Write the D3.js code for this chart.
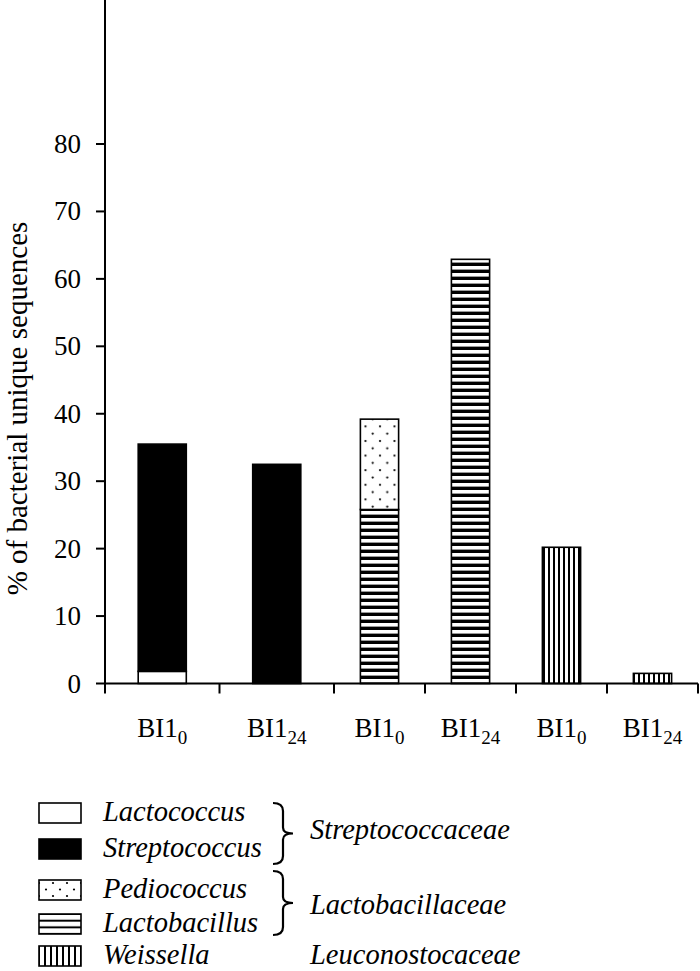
<!DOCTYPE html>
<html>
<head>
<meta charset="utf-8">
<script src="https://cdn.jsdelivr.net/npm/d3@7"></script>
<style>
  body { margin: 0; background: #fff; }
  svg { display: block; }
</style>
</head>
<body>
<div id="chart"></div>
<script>
'use strict';

// data (% of bacterial unique sequences)
const sampleNames = ['BI1', 'BI1', 'BI1', 'BI1', 'BI1', 'BI1'];
const sampleHours = ['0', '24', '0', '24', '0', '24'];
const genera = ['Lactococcus', 'Streptococcus', 'Pediococcus', 'Lactobacillus', 'Weissella'];
const lactococcus = [1.8, 0, 0, 0, 0, 0];
const streptococcus = [33.7, 32.5, 0, 0, 0, 0];
const pediococcus = [0, 0, 13.4, 0, 0, 0];
const lactobacillus = [0, 0, 25.8, 62.9, 0, 0];
const weissella = [0, 0, 0, 0, 20.2, 1.5];
const families = ['Streptococcaceae', 'Lactobacillaceae', 'Leuconostocaceae'];
const yTicks = [0, 10, 20, 30, 40, 50, 60, 70, 80];

// stacking order, bottom to top
const stackKeys = ['Lactococcus', 'Streptococcus', 'Lactobacillus', 'Pediococcus', 'Weissella'];

const settings = {
    width: 700,
    height: 971,
    elId: '#chart',
    font: 'Liberation Serif, Times New Roman, serif',
};

const rows = sampleNames.map((name, i) => ({
    name: name,
    hour: sampleHours[i],
    Lactococcus: lactococcus[i],
    Streptococcus: streptococcus[i],
    Pediococcus: pediococcus[i],
    Lactobacillus: lactobacillus[i],
    Weissella: weissella[i],
}));

const svg = d3.select(settings.elId)
    .append('svg')
    .attr('width', settings.width)
    .attr('height', settings.height);

// the two first groups get wider slots than the last four
const x = d3.scaleLinear()
    .domain([0, 2, 6])
    .range([105, 334, 698]);

const y = d3.scaleLinear()
    .domain([0, 80])
    .range([683.5, 144]);

// patterns
const defs = svg.append('defs');

function hStripes(id, period, thick) {
    const p = defs.append('pattern')
        .attr('id', id)
        .attr('patternUnits', 'userSpaceOnUse')
        .attr('width', 10).attr('height', period);
    p.append('rect').attr('width', 10).attr('height', period).attr('fill', '#fff');
    p.append('rect').attr('y', period - thick).attr('width', 10).attr('height', thick).attr('fill', '#000');
    return p;
}

function vStripes(id, period, thick) {
    const p = defs.append('pattern')
        .attr('id', id)
        .attr('patternUnits', 'userSpaceOnUse')
        .attr('width', period).attr('height', 10);
    p.append('rect').attr('width', period).attr('height', 10).attr('fill', '#fff');
    p.append('rect').attr('x', period - thick).attr('width', thick).attr('height', 10).attr('fill', '#000');
    return p;
}

function dots(id, w, h) {
    const p = defs.append('pattern')
        .attr('id', id)
        .attr('patternUnits', 'userSpaceOnUse')
        .attr('width', w).attr('height', h);
    p.append('rect').attr('width', w).attr('height', h).attr('fill', '#fff');
    p.append('circle').attr('cx', 3).attr('cy', 3).attr('r', 1.1).attr('fill', '#000');
    p.append('circle').attr('cx', 3 + w / 2).attr('cy', 3 + h / 2).attr('r', 1.1).attr('fill', '#000');
    return p;
}

hStripes('hs', 7, 3.4);
vStripes('vs', 5, 2);
dots('dt', 14.5, 14.6);

const fills = {
    Lactococcus: '#fff',
    Streptococcus: '#000',
    Pediococcus: 'url(#dt)',
    Lactobacillus: 'url(#hs)',
    Weissella: 'url(#vs)',
};

// bars
const stack = d3.stack().keys(stackKeys);
const series = stack(rows);
const barFrac = 0.42;

const bars = svg.append('g').attr('id', 'bars');
series.forEach(s => {
    bars.selectAll(null)
        .data(s.map((d, i) => ({ lo: d[0], hi: d[1], i: i, key: s.key })).filter(d => d.hi - d.lo > 0))
        .enter()
        .append('rect')
        .attr('x', d => {
            const w = (x(d.i + 1) - x(d.i)) * barFrac;
            return (x(d.i) + x(d.i + 1)) / 2 - w / 2;
        })
        .attr('width', d => (x(d.i + 1) - x(d.i)) * barFrac)
        .attr('y', d => y(d.hi))
        .attr('height', d => y(d.lo) - y(d.hi))
        .attr('fill', d => fills[d.key])
        .attr('stroke', '#000')
        .attr('stroke-width', 1.6);
});

// y axis
const yAxis = svg.append('g').attr('id', 'y-axis');
yAxis.append('line')
    .attr('x1', x(0)).attr('x2', x(0))
    .attr('y1', y(0)).attr('y2', 0)
    .attr('stroke', '#000').attr('stroke-width', 2);
yAxis.selectAll('.tick')
    .data(yTicks)
    .enter()
    .append('line')
    .attr('x1', x(0) - 9).attr('x2', x(0))
    .attr('y1', d => y(d)).attr('y2', d => y(d))
    .attr('stroke', '#000').attr('stroke-width', 2);
yAxis.selectAll('text')
    .data(yTicks)
    .enter()
    .append('text')
    .attr('x', x(0) - 24)
    .attr('y', d => y(d) + 9)
    .attr('text-anchor', 'end')
    .attr('font-family', settings.font)
    .attr('font-size', 27)
    .text(d => d);

svg.append('text')
    .attr('transform', `translate(27,${(220 + 597) / 2}) rotate(-90)`)
    .attr('text-anchor', 'middle')
    .attr('font-family', settings.font)
    .attr('font-size', 29)
    .text('% of bacterial unique sequences');

// x axis
const xAxis = svg.append('g').attr('id', 'x-axis');
xAxis.append('line')
    .attr('x1', x(0)).attr('x2', x(6))
    .attr('y1', y(0)).attr('y2', y(0))
    .attr('stroke', '#000').attr('stroke-width', 2);
xAxis.selectAll('.tick')
    .data(d3.range(7))
    .enter()
    .append('line')
    .attr('x1', d => x(d)).attr('x2', d => x(d))
    .attr('y1', y(0)).attr('y2', y(0) + 10)
    .attr('stroke', '#000').attr('stroke-width', 2);

const xl = xAxis.selectAll('text')
    .data(rows)
    .enter()
    .append('text')
    .attr('x', (d, i) => (x(i) + x(i + 1)) / 2)
    .attr('y', 737)
    .attr('text-anchor', 'middle')
    .attr('font-family', settings.font)
    .attr('font-size', 27);
xl.append('tspan').text(d => d.name);
xl.append('tspan')
    .attr('dy', 7)
    .attr('font-size', 19)
    .text(d => d.hour);

// legend
const legendBase = [821, 857, 898, 932, 964];
const legendFills = {
    Lactococcus: '#fff',
    Streptococcus: '#000',
    Pediococcus: 'url(#ldt)',
    Lactobacillus: 'url(#lhs)',
    Weissella: 'url(#lvs)',
};
hStripes('lhs', 6.67, 2).attr('patternTransform', `translate(0,${legendBase[3] - 18 + 1})`);
vStripes('lvs', 6, 2).attr('patternTransform', `translate(40,0)`);
dots('ldt', 14, 13).attr('patternTransform', `translate(36,${legendBase[2] - 18})`);

const legend = svg.append('g').attr('id', 'legend');
legend.selectAll('rect')
    .data(genera)
    .enter()
    .append('rect')
    .attr('x', 39)
    .attr('y', (d, i) => legendBase[i] - 18)
    .attr('width', 42)
    .attr('height', 20)
    .attr('fill', d => legendFills[d])
    .attr('stroke', '#000')
    .attr('stroke-width', 1.6);
legend.selectAll('text.genus')
    .data(genera)
    .enter()
    .append('text')
    .attr('class', 'genus')
    .attr('x', 103)
    .attr('y', (d, i) => legendBase[i])
    .attr('font-family', settings.font)
    .attr('font-style', 'italic')
    .attr('font-size', 28.5)
    .text(d => d);

// braces grouping genera into families
function brace(top, bottom) {
    const xa = 273, xb = 283, xc = 293, mid = (top + bottom) / 2;
    return `M${xa},${top} Q${xb},${top} ${xb},${top + 8} L${xb},${mid - 6} Q${xb},${mid} ${xc},${mid}`
        + ` Q${xb},${mid} ${xb},${mid + 6} L${xb},${bottom - 8} Q${xb},${bottom} ${xa},${bottom}`;
}
const braceSpans = [[803, 864], [871, 935]];
legend.selectAll('path')
    .data(braceSpans)
    .enter()
    .append('path')
    .attr('d', d => brace(d[0], d[1]))
    .attr('fill', 'none')
    .attr('stroke', '#000')
    .attr('stroke-width', 2.2);

const familyBase = [839, 914, 964];
legend.selectAll('text.family')
    .data(families)
    .enter()
    .append('text')
    .attr('class', 'family')
    .attr('x', 310)
    .attr('y', (d, i) => familyBase[i])
    .attr('font-family', settings.font)
    .attr('font-style', 'italic')
    .attr('font-size', 28.5)
    .text(d => d);
</script>
</body>
</html>
